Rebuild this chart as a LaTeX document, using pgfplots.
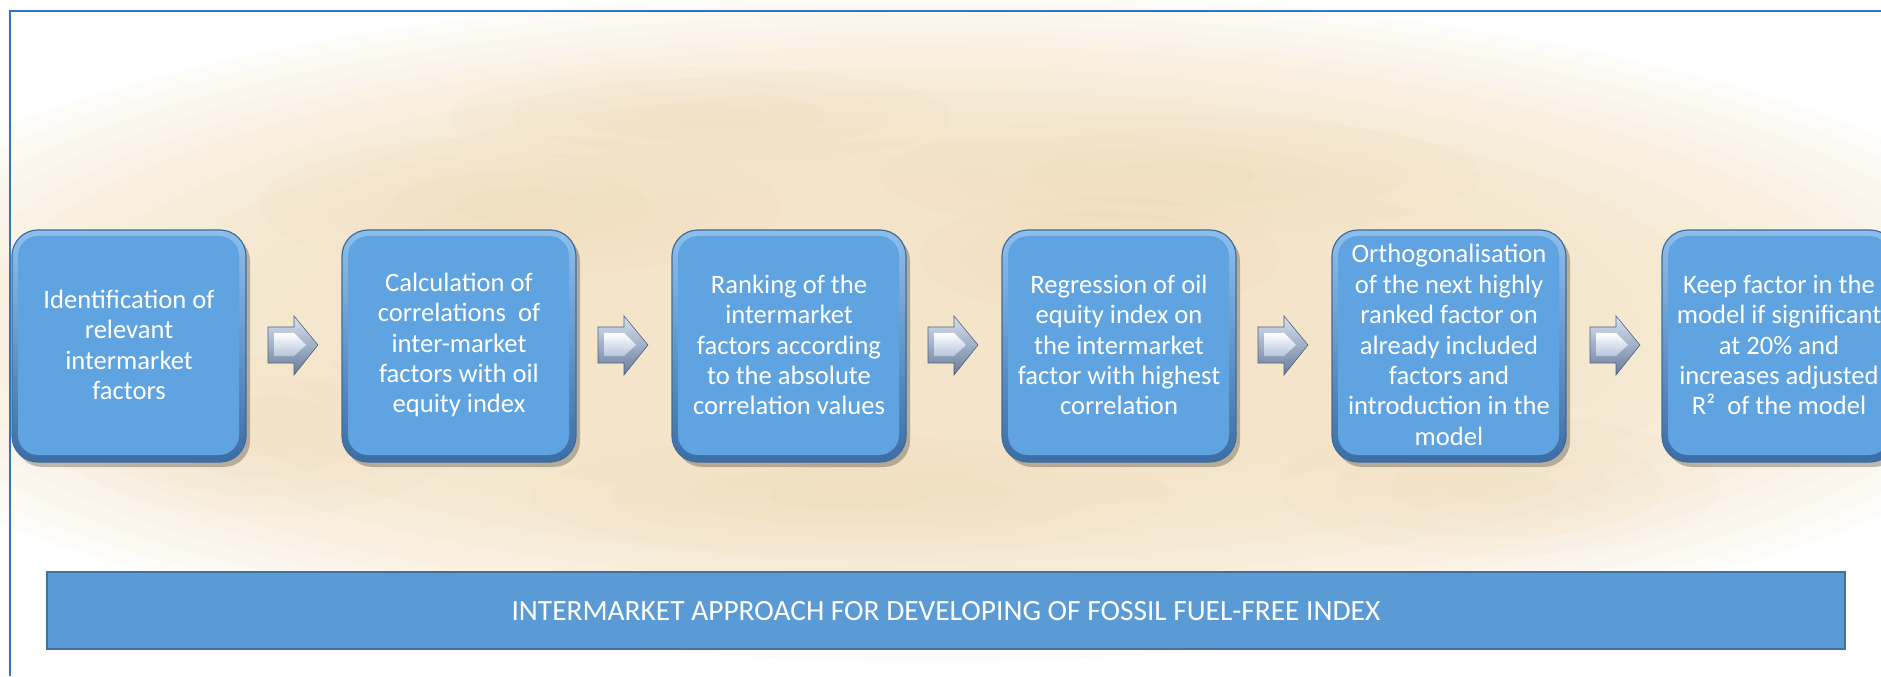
\documentclass[border=0pt]{standalone}
\usepackage{fontspec}
\setmainfont{Carlito}
\usepackage{pgfplots}
\pgfplotsset{compat=1.18}

\definecolor{frameblue}{HTML}{2F75C5}
\definecolor{parchA}{HTML}{F0DCB8}
\definecolor{parchB}{HTML}{E8CC9E}
\definecolor{face}{HTML}{60A3E1}
\definecolor{rimlight}{HTML}{8EBFEC}
\definecolor{rimdark}{HTML}{3C6EA6}
\definecolor{edge}{HTML}{3D6D9C}
\definecolor{banner}{HTML}{5B9BD5}
\definecolor{banneredge}{HTML}{41719C}
\definecolor{arrtop}{HTML}{D8E3F2}
\definecolor{arrbot}{HTML}{687B99}
\definecolor{arrface}{HTML}{B5C5DC}

\newcommand\boxfont{\fontsize{13.3}{15.2}\selectfont}
\newcommand\bannerfont{\fontsize{14.7}{17}\selectfont}

% left, centre, right, text  (x in px of the 1881 wide picture)
\newcommand\flowbox[4]{%
  \fill[black,opacity=0.25,rounded corners=13pt]
    ([xshift=2pt,yshift=-2.5pt]axis cs:#1,214) rectangle ([xshift=2pt,yshift=-2.5pt]axis cs:#3,446);
  \shade[top color=rimlight,bottom color=rimdark,rounded corners=13pt,draw=edge,line width=0.6pt]
    (axis cs:#1,214) rectangle (axis cs:#3,446);
  \fill[face,rounded corners=10pt]
    ([xshift=3pt,yshift=3.5pt]axis cs:#1,214) rectangle ([xshift=-3.5pt,yshift=-3pt]axis cs:#3,446);
  \node[text=white,align=center,font=\boxfont] at (axis cs:#2,331) {#4};
}

% left edge of the arrow
\newcommand\flowarrow[1]{%
  \shade[top color=arrtop,bottom color=arrbot,draw=arrbot!80!black,line width=0.3pt]
    (axis cs:#1,349) -- ([xshift=13pt]axis cs:#1,349) -- ([xshift=13pt]axis cs:#1,360)
    -- ([xshift=25pt]axis cs:#1,331) -- ([xshift=13pt]axis cs:#1,301)
    -- ([xshift=13pt]axis cs:#1,313) -- (axis cs:#1,313) -- cycle;
  \shade[top color=white,bottom color=arrface]
    ([xshift=3pt]axis cs:#1,343) -- ([xshift=13pt]axis cs:#1,343)
    -- ([xshift=19pt]axis cs:#1,331) -- ([xshift=13pt]axis cs:#1,320)
    -- ([xshift=3pt]axis cs:#1,320) -- cycle;
}

% soft blob: x, y, rx, ry
\newcommand\blob[4]{%
  \fill[parchB,opacity=0.05] (axis cs:#1,#2) ellipse [x radius=#3, y radius=#4];
  \fill[parchB,opacity=0.05] (axis cs:#1,#2) ellipse [x radius=0.75*#3, y radius=0.75*#4];
  \fill[parchB,opacity=0.05] (axis cs:#1,#2) ellipse [x radius=0.5*#3, y radius=0.5*#4];
  \fill[parchB,opacity=0.05] (axis cs:#1,#2) ellipse [x radius=0.25*#3, y radius=0.25*#4];
}

% parchment layer: x radius, y radius
\newcommand\parch[2]{\fill[parchA,opacity=0.085] (axis cs:930,350) ellipse [x radius=#1, y radius=#2];}

\begin{document}
\begin{tikzpicture}
\begin{axis}[
    width=940.5pt, height=338pt,
    scale only axis,
    hide axis,
    xmin=0, xmax=1881,
    ymin=0, ymax=676,
    clip=true,
]
% parchment background, faded towards the edges
\parch{1150}{335}
\parch{1110}{324}
\parch{1070}{313}
\parch{1030}{302}
\parch{990}{291}
\parch{950}{280}
\parch{910}{269}
\parch{870}{258}
\parch{830}{247}
\parch{790}{236}
\parch{750}{225}
\parch{705}{213}
\parch{660}{200}
\parch{610}{186}
\parch{555}{170}
\parch{495}{152}
\blob{520}{470}{260}{70}
\blob{1180}{500}{300}{60}
\blob{850}{180}{320}{60}
\blob{260}{240}{200}{80}
\blob{1500}{190}{220}{70}
\blob{1100}{420}{180}{60}
\blob{700}{560}{250}{50}

% frame
\draw[frameblue,line width=1pt] (axis cs:10,0) -- (axis cs:10,665) -- (axis cs:1881,665);

% steps
\flowbox{12}{129}{246}{Identification of\\relevant\\intermarket\\factors}
\flowbox{342}{459}{576}{Calculation of\\correlations\ \ of\\inter-market\\factors with oil\\equity index}
\flowbox{672}{789}{906}{Ranking of the\\intermarket\\factors according\\to the absolute\\correlation values}
\flowbox{1002}{1119}{1236}{Regression of oil\\equity index on\\the intermarket\\factor with highest\\correlation}
\flowbox{1332}{1449}{1566}{Orthogonalisation\\of the next highly\\ranked factor on\\already included\\factors and\\introduction in the\\model}
\flowbox{1662}{1779}{1896}{Keep factor in the\\model if significant\\at 20\% and\\increases adjusted\\R²\ \ of the model}

\flowarrow{268}
\flowarrow{598}
\flowarrow{928}
\flowarrow{1258}
\flowarrow{1590}

% banner
\draw[fill=banner,draw=banneredge,line width=1.2pt] (axis cs:47,27) rectangle (axis cs:1845,104);
\node[text=white,font=\bannerfont] at (axis cs:946,65) {INTERMARKET APPROACH FOR DEVELOPING OF FOSSIL FUEL-FREE INDEX};
\end{axis}
\pgfresetboundingbox
\useasboundingbox (current axis.south west) rectangle (current axis.north east);
\end{tikzpicture}
\end{document}
